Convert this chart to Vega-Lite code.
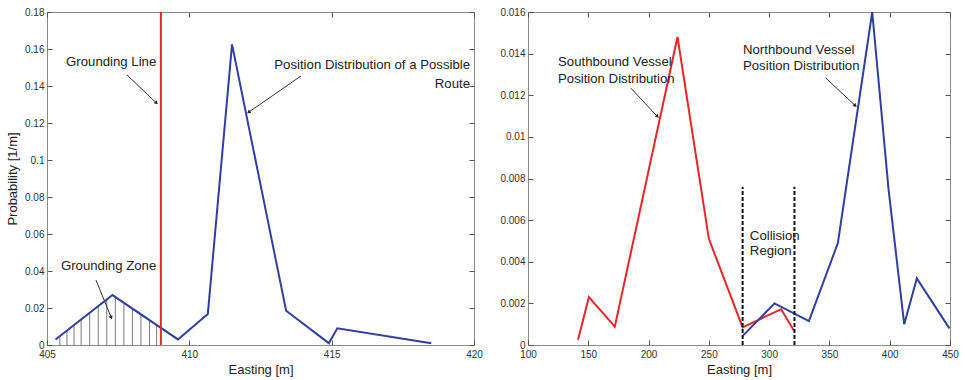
{
  "$schema": "https://vega.github.io/schema/vega-lite/v6.json",
  "background": "white",
  "padding": {"left": 6, "top": 6, "right": 0, "bottom": 2},
  "bounds": "flush",
  "config": {
    "view": {"stroke": "#8a8a8a", "strokeWidth": 1},
    "font": "Liberation Sans",
    "axis": {
      "grid": false, "domain": false, "tickColor": "#555", "tickSize": -5,
      "labelColor": "#333", "labelFontSize": 10, "labelFont": "Liberation Sans",
      "titleFont": "Liberation Sans", "titleFontSize": 13, "titleFontWeight": "normal",
      "titleColor": "#222", "labelPadding": 8, "labelFlush": false
    },
    "text": {"font": "Liberation Sans", "fontSize": 13.2, "color": "#222"}
  },
  "datasets": {
    "route": [
      {"easting": 405.3, "prob": 0.003},
      {"easting": 407.3, "prob": 0.027},
      {"easting": 409.6, "prob": 0.003},
      {"easting": 410.65, "prob": 0.0168},
      {"easting": 411.5, "prob": 0.1625},
      {"easting": 413.4, "prob": 0.0185},
      {"easting": 414.9, "prob": 0.001},
      {"easting": 415.2, "prob": 0.009},
      {"easting": 418.5, "prob": 0.001}
    ],
    "grounding": [{"easting": 409.0, "bottom": 0, "top": 0.18}],
    "hatch": [
      {"easting": 405.45, "bottom": 0, "top": 0.0048},
      {"easting": 405.7, "bottom": 0, "top": 0.0078},
      {"easting": 405.95, "bottom": 0, "top": 0.0108},
      {"easting": 406.2, "bottom": 0, "top": 0.0138},
      {"easting": 406.5, "bottom": 0, "top": 0.0174},
      {"easting": 406.8, "bottom": 0, "top": 0.021},
      {"easting": 407.1, "bottom": 0, "top": 0.0246},
      {"easting": 407.4, "bottom": 0, "top": 0.026},
      {"easting": 407.7, "bottom": 0, "top": 0.0228},
      {"easting": 408.0, "bottom": 0, "top": 0.0197},
      {"easting": 408.3, "bottom": 0, "top": 0.0166},
      {"easting": 408.6, "bottom": 0, "top": 0.0134},
      {"easting": 408.85, "bottom": 0, "top": 0.0108}
    ],
    "leftArrows": [
      {"x1": 407.81, "y1": 0.146, "x2": 408.83, "y2": 0.131, "heading": 134},
      {"x1": 413.92, "y1": 0.1454, "x2": 412.1, "y2": 0.126, "heading": 235},
      {"x1": 406.72, "y1": 0.0351, "x2": 407.25, "y2": 0.0151, "heading": 158}
    ],
    "leftTextL": [
      {"x": 405.67, "y": 0.153, "label": "Grounding Line"},
      {"x": 405.49, "y": 0.0427, "label": "Grounding Zone"}
    ],
    "leftTextR": [
      {"x": 419.86, "y": 0.1514, "label": "Position Distribution of a Possible"},
      {"x": 419.86, "y": 0.141, "label": "Route"}
    ],
    "south": [
      {"easting": 141.5, "prob": 0.00025},
      {"easting": 150.5, "prob": 0.0023},
      {"easting": 172, "prob": 0.00088},
      {"easting": 224, "prob": 0.0148},
      {"easting": 250, "prob": 0.0051},
      {"easting": 278, "prob": 0.00085},
      {"easting": 310, "prob": 0.00172},
      {"easting": 320.5, "prob": 0.0007}
    ],
    "north": [
      {"easting": 277.5, "prob": 0.0004},
      {"easting": 304.5, "prob": 0.002},
      {"easting": 333, "prob": 0.00115},
      {"easting": 357, "prob": 0.0049},
      {"easting": 385.5, "prob": 0.016},
      {"easting": 399, "prob": 0.0075},
      {"easting": 412, "prob": 0.001},
      {"easting": 422.5, "prob": 0.0032},
      {"easting": 449.5, "prob": 0.0008}
    ],
    "collision": [
      {"easting": 278, "bottom": 0, "top": 0.0076},
      {"easting": 321, "bottom": 0, "top": 0.0076}
    ],
    "rightArrows": [
      {"x1": 185.4, "y1": 0.01234, "x2": 207, "y2": 0.011, "heading": 137},
      {"x1": 347.1, "y1": 0.01282, "x2": 371.1, "y2": 0.01152, "heading": 133}
    ],
    "rightText": [
      {"x": 124.9, "y": 0.01359, "label": "Southbound Vessel"},
      {"x": 124.9, "y": 0.01277, "label": "Position Distribution"},
      {"x": 278.3, "y": 0.01417, "label": "Northbound Vessel"},
      {"x": 278.3, "y": 0.0134, "label": "Position Distribution"},
      {"x": 284, "y": 0.00525, "label": "Collision"},
      {"x": 284, "y": 0.00453, "label": "Region"}
    ]
  },
  "spacing": 54,
  "hconcat": [
    {
      "width": 427, "height": 333,
      "resolve": {"axis": {"x": "independent", "y": "independent"}},
      "layer": [
        {
          "data": {"name": "hatch"},
          "mark": {"type": "rule", "color": "#7a7a7a", "strokeWidth": 1},
          "encoding": {
            "x": {"field": "easting", "type": "quantitative", "scale": {"domain": [405, 420], "nice": false}, "axis": null},
            "y": {"field": "bottom", "type": "quantitative", "scale": {"domain": [0, 0.18], "nice": false}, "axis": null},
            "y2": {"field": "top"}
          }
        },
        {
          "data": {"name": "route"},
          "mark": {"type": "line", "color": "#2f3f9f", "strokeWidth": 2},
          "encoding": {
            "x": {"field": "easting", "type": "quantitative", "scale": {"domain": [405, 420], "nice": false},
                  "axis": {"values": [405, 410, 415, 420], "title": "Easting [m]", "labelPadding": 9, "titlePadding": 4}},
            "y": {"field": "prob", "type": "quantitative", "scale": {"domain": [0, 0.18], "nice": false},
                  "axis": {"values": [0, 0.02, 0.04, 0.06, 0.08, 0.1, 0.12, 0.14, 0.16, 0.18], "title": "Probability [1/m]",
                           "labelExpr": "format(datum.value, '~g')", "titlePadding": 5}}
          }
        },
        {
          "data": {"name": "route"},
          "mark": {"type": "point", "opacity": 0},
          "encoding": {
            "x": {"field": "easting", "type": "quantitative", "scale": {"domain": [405, 420], "nice": false},
                  "axis": {"orient": "top", "values": [405, 410, 415, 420], "labels": false, "title": null}},
            "y": {"field": "prob", "type": "quantitative", "scale": {"domain": [0, 0.18], "nice": false},
                  "axis": {"orient": "right", "values": [0, 0.02, 0.04, 0.06, 0.08, 0.1, 0.12, 0.14, 0.16, 0.18], "labels": false, "title": null}}
          }
        },
        {
          "data": {"name": "grounding"},
          "mark": {"type": "rule", "color": "#e8262a", "strokeWidth": 2},
          "encoding": {
            "x": {"field": "easting", "type": "quantitative", "scale": {"domain": [405, 420], "nice": false}, "axis": null},
            "y": {"field": "bottom", "type": "quantitative", "scale": {"domain": [0, 0.18], "nice": false}, "axis": null},
            "y2": {"field": "top"}
          }
        },
        {
          "data": {"name": "leftArrows"},
          "mark": {"type": "rule", "color": "#333", "strokeWidth": 1},
          "encoding": {
            "x": {"field": "x1", "type": "quantitative", "scale": {"domain": [405, 420], "nice": false}, "axis": null},
            "y": {"field": "y1", "type": "quantitative", "scale": {"domain": [0, 0.18], "nice": false}, "axis": null},
            "x2": {"field": "x2"},
            "y2": {"field": "y2"}
          }
        },
        {
          "data": {"name": "leftArrows"},
          "mark": {"type": "point", "shape": "triangle", "filled": true, "color": "#222", "size": 18, "opacity": 1},
          "encoding": {
            "x": {"field": "x2", "type": "quantitative", "scale": {"domain": [405, 420], "nice": false}, "axis": null},
            "y": {"field": "y2", "type": "quantitative", "scale": {"domain": [0, 0.18], "nice": false}, "axis": null},
            "angle": {"field": "heading", "type": "quantitative", "scale": null}
          }
        },
        {
          "data": {"name": "leftTextL"},
          "mark": {"type": "text", "align": "left", "baseline": "middle"},
          "encoding": {
            "x": {"field": "x", "type": "quantitative", "scale": {"domain": [405, 420], "nice": false}, "axis": null},
            "y": {"field": "y", "type": "quantitative", "scale": {"domain": [0, 0.18], "nice": false}, "axis": null},
            "text": {"field": "label"}
          }
        },
        {
          "data": {"name": "leftTextR"},
          "mark": {"type": "text", "align": "right", "baseline": "middle"},
          "encoding": {
            "x": {"field": "x", "type": "quantitative", "scale": {"domain": [405, 420], "nice": false}, "axis": null},
            "y": {"field": "y", "type": "quantitative", "scale": {"domain": [0, 0.18], "nice": false}, "axis": null},
            "text": {"field": "label"}
          }
        }
      ]
    },
    {
      "width": 422, "height": 333,
      "resolve": {"axis": {"x": "independent", "y": "independent"}},
      "layer": [
        {
          "data": {"name": "south"},
          "mark": {"type": "line", "color": "#e8262a", "strokeWidth": 2},
          "encoding": {
            "x": {"field": "easting", "type": "quantitative", "scale": {"domain": [100, 450], "nice": false},
                  "axis": {"values": [100, 150, 200, 250, 300, 350, 400, 450], "title": "Easting [m]", "labelPadding": 9, "titlePadding": 4}},
            "y": {"field": "prob", "type": "quantitative", "scale": {"domain": [0, 0.016], "nice": false},
                  "axis": {"values": [0, 0.002, 0.004, 0.006, 0.008, 0.01, 0.012, 0.014, 0.016], "title": null,
                           "labelExpr": "format(datum.value, '~g')"}}
          }
        },
        {
          "data": {"name": "north"},
          "mark": {"type": "line", "color": "#2f3f9f", "strokeWidth": 2},
          "encoding": {
            "x": {"field": "easting", "type": "quantitative", "scale": {"domain": [100, 450], "nice": false},
                  "axis": {"orient": "top", "values": [100, 150, 200, 250, 300, 350, 400, 450], "labels": false, "title": null}},
            "y": {"field": "prob", "type": "quantitative", "scale": {"domain": [0, 0.016], "nice": false},
                  "axis": {"orient": "right", "values": [0, 0.002, 0.004, 0.006, 0.008, 0.01, 0.012, 0.014, 0.016], "labels": false, "title": null}}
          }
        },
        {
          "data": {"name": "collision"},
          "mark": {"type": "rule", "color": "#111", "strokeWidth": 2, "strokeDash": [4, 2]},
          "encoding": {
            "x": {"field": "easting", "type": "quantitative", "scale": {"domain": [100, 450], "nice": false}, "axis": null},
            "y": {"field": "bottom", "type": "quantitative", "scale": {"domain": [0, 0.016], "nice": false}, "axis": null},
            "y2": {"field": "top"}
          }
        },
        {
          "data": {"name": "rightArrows"},
          "mark": {"type": "rule", "color": "#333", "strokeWidth": 1},
          "encoding": {
            "x": {"field": "x1", "type": "quantitative", "scale": {"domain": [100, 450], "nice": false}, "axis": null},
            "y": {"field": "y1", "type": "quantitative", "scale": {"domain": [0, 0.016], "nice": false}, "axis": null},
            "x2": {"field": "x2"},
            "y2": {"field": "y2"}
          }
        },
        {
          "data": {"name": "rightArrows"},
          "mark": {"type": "point", "shape": "triangle", "filled": true, "color": "#222", "size": 18, "opacity": 1},
          "encoding": {
            "x": {"field": "x2", "type": "quantitative", "scale": {"domain": [100, 450], "nice": false}, "axis": null},
            "y": {"field": "y2", "type": "quantitative", "scale": {"domain": [0, 0.016], "nice": false}, "axis": null},
            "angle": {"field": "heading", "type": "quantitative", "scale": null}
          }
        },
        {
          "data": {"name": "rightText"},
          "mark": {"type": "text", "align": "left", "baseline": "middle"},
          "encoding": {
            "x": {"field": "x", "type": "quantitative", "scale": {"domain": [100, 450], "nice": false}, "axis": null},
            "y": {"field": "y", "type": "quantitative", "scale": {"domain": [0, 0.016], "nice": false}, "axis": null},
            "text": {"field": "label"}
          }
        }
      ]
    }
  ]
}
